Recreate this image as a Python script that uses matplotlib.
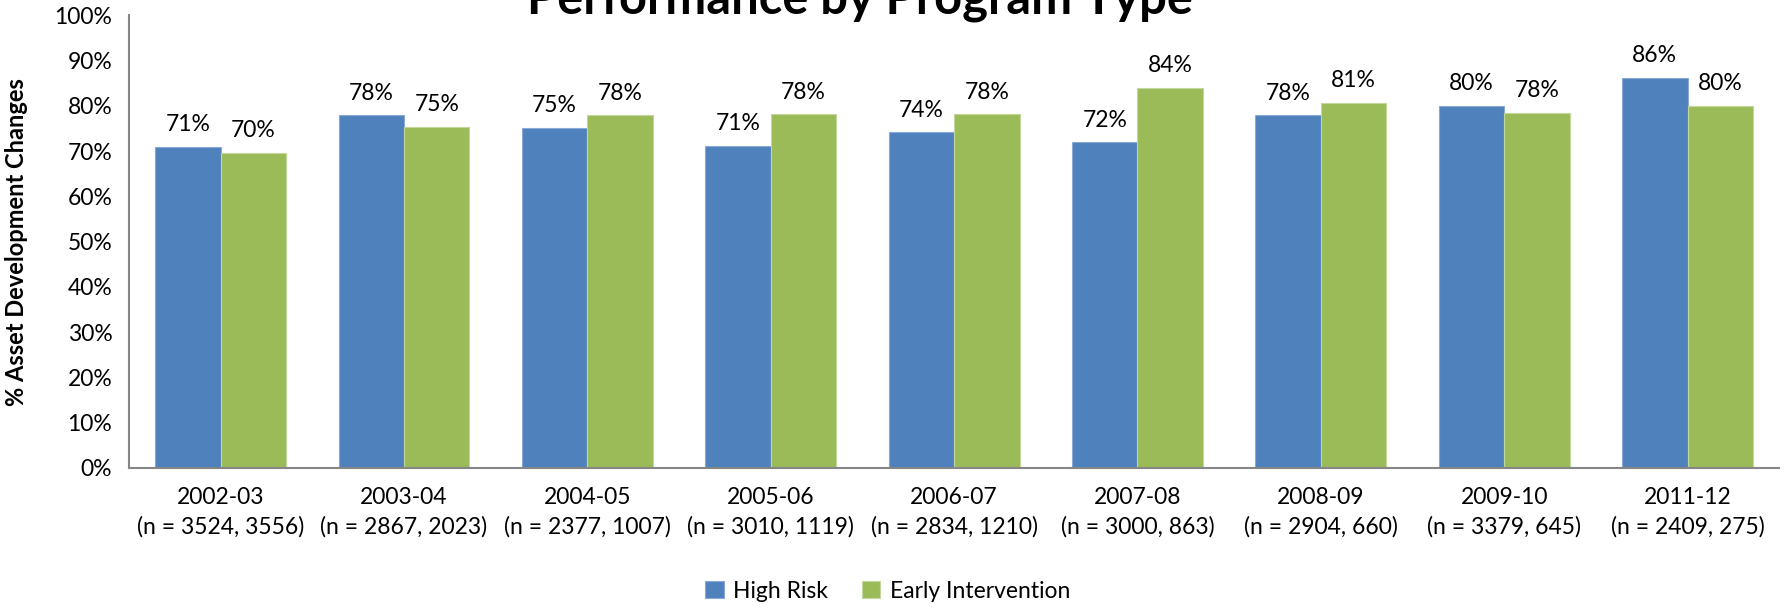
import numpy as np
import matplotlib.pyplot as plt

years = ['2002-03', '2003-04', '2004-05', '2005-06', '2006-07',
         '2007-08', '2008-09', '2009-10', '2011-12']
n_counts = ['(n = 3524, 3556)', '(n = 2867, 2023)', '(n = 2377, 1007)',
            '(n = 3010, 1119)', '(n = 2834, 1210)', '(n = 3000, 863)',
            '(n = 2904, 660)', '(n = 3379, 645)', '(n = 2409, 275)']
high_risk = [70.9, 77.9, 75.1, 71.1, 74.1, 71.9, 77.9, 79.9, 86.2]
early_int = [69.6, 75.4, 77.9, 78.1, 78.1, 83.9, 80.7, 78.4, 79.9]

plt.rcParams['font.family'] = ['Lato', 'DejaVu Sans']

fig = plt.figure(figsize=(17.86, 6.07), dpi=100)
ax = fig.add_axes([0.0722, 0.229, 0.924, 0.746])

x = np.arange(len(years))
w = 0.357
b1 = ax.bar(x - w/2, high_risk, w, color='#4F81BD', edgecolor='#8BA9D6', linewidth=0.8, label='High Risk')
b2 = ax.bar(x + w/2, early_int, w, color='#9BBB59', edgecolor='#C3D69B', linewidth=0.8, label='Early Intervention')

for bars, vals in [(b1, high_risk), (b2, early_int)]:
    for r, v in zip(bars, vals):
        ax.annotate(f'{round(v)}%', (r.get_x() + r.get_width()/2, v),
                    xytext=(0, 16), textcoords='offset points',
                    ha='center', va='center', fontsize=16.5)

ax.set_xlim(-0.5, len(years) - 0.5)
ax.set_ylim(0, 100)
ax.set_yticks(range(0, 101, 10))
ax.set_yticklabels([f'{t}%' for t in range(0, 101, 10)], fontsize=16.5)
ax.set_xticks(x)
ax.set_xticklabels([f'{a}\n{b}' for a, b in zip(years, n_counts)], fontsize=16.5, linespacing=1.45)
ax.tick_params(length=0, pad=12)
ax.tick_params(axis='x', pad=14)

for s in ['top', 'right']:
    ax.spines[s].set_visible(False)
for s in ['left', 'bottom']:
    ax.spines[s].set_color('#868686')
    ax.spines[s].set_linewidth(1.5)

ax.set_ylabel('% Asset Development Changes', fontsize=17, fontweight='bold')
ax.yaxis.set_label_coords(-0.061, 0.5)

ttl = fig.text(0.4815, 1 - 14/607, 'Performance by Program Type', ha='center', va='baseline',
               fontsize=30, fontweight='bold')
fig.canvas.draw()
tw = ttl.get_window_extent().width
ttl.set_fontsize(30 * 666 / tw)

fig.legend(handles=[b1, b2], labels=['High Risk', 'Early Intervention'], loc='center',
           bbox_to_anchor=(0.497, 1 - 591/607), ncol=2, frameon=False, fontsize=16.5,
           handlelength=0.8, handleheight=0.8, handletextpad=0.4, columnspacing=1.5)

fig.savefig('out.png', dpi=100)
